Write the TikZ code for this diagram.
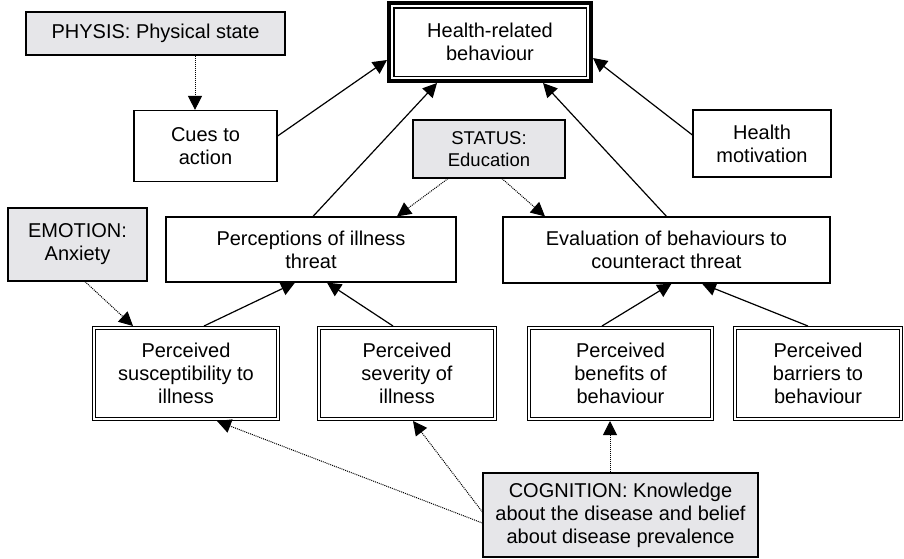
\documentclass[tikz,border=0pt]{standalone}
\usepackage{fontspec}
\setmainfont{Liberation Sans}
\usetikzlibrary{arrows.meta}
\definecolor{boxgray}{HTML}{E6E6E9}

\begin{document}
\begin{tikzpicture}[x=1pt,y=1pt,font=\fontsize{20}{23}\selectfont,
  box/.style={draw,line width=1.2pt,align=center,inner sep=0pt},
  gbox/.style={box,fill=boxgray},
  dbox/.style={box,double,double distance=1.6pt,outer sep=2pt,minimum height=91pt},
  cause/.style={-{Triangle[length=14pt,width=14pt]},line width=1.2pt},
  hint/.style={-{Triangle[length=14pt,width=14pt]},line width=1pt,dash pattern=on 1pt off 1pt}]
\useasboundingbox (0,0) rectangle (904,-558);
\node[gbox,minimum width=259pt,minimum height=43pt] (physis) at (155.5,-33.5) {PHYSIS: Physical state};
\node[box,line width=1.5pt,outer sep=6.75pt,minimum width=192.5pt,minimum height=68.5pt] (hrb) at (490,-42) {Health-related\\behaviour};
\draw[line width=4pt] ([shift={(2pt,2pt)}]hrb.south west) rectangle ([shift={(-2pt,-2pt)}]hrb.north east);
\node[box,minimum width=143pt,minimum height=71pt] (cues) at (205.5,-146) {Cues to\\action};
\node[gbox,minimum width=152pt,minimum height=58pt,font=\fontsize{18.5}{22}\selectfont] (status) at (489,-149) {STATUS:\\Education};
\node[box,minimum width=138pt,minimum height=67pt] (hm) at (762,-143.5) {Health\\motivation};
\node[gbox,minimum width=139pt,minimum height=73pt] (emotion) at (77.5,-244.5) {EMOTION:\\Anxiety};
\node[box,minimum width=290pt,minimum height=65pt] (perc) at (311,-249.5) {Perceptions of illness\\threat};
\node[box,minimum width=327pt,minimum height=66pt] (eval) at (666.5,-250) {Evaluation of behaviours to\\counteract threat};
\foreach \n/\x/\w/\t in {susc/186/184/{Perceived\\susceptibility to\\illness},
  sev/407/176/{Perceived\\severity of\\illness},
  ben/620.5/183/{Perceived\\benefits of\\behaviour},
  bar/818/166/{Perceived\\barriers to\\behaviour}}
  \node[dbox,minimum width=\w pt] (\n) at (\x,-373.5) {\t};
\node[gbox,minimum width=275pt,minimum height=84pt] (cog) at (620.5,-515) {COGNITION: Knowledge\\about the disease and belief\\about disease prevalence};
% links into behaviour
\draw[hint] ([xshift=39.5pt]physis.south) -- ([xshift=-10.5pt]cues.north);
\draw[cause] ([yshift=10pt]cues.east) -- ([yshift=-18pt]hrb.west);
\draw[cause] ([xshift=2pt]perc.north) -- ([xshift=-53pt]hrb.south);
\draw[cause] (eval.north) -- ([xshift=53pt]hrb.south);
\draw[cause] ([yshift=8.5pt]hm.west) -- ([yshift=-16pt]hrb.east);
\draw[hint] ([xshift=-41pt]status.south) -- ([xshift=86pt]perc.north);
\draw[hint] ([xshift=13pt]status.south) -- ([xshift=-121.5pt]eval.north);
% perceived factors
\draw[hint] ([xshift=7.5pt]emotion.south) -- ([xshift=-53pt]susc.north);
\draw[cause] ([xshift=18pt]susc.north) -- ([xshift=-16pt]perc.south);
\draw[cause] ([xshift=-14pt]sev.north) -- ([xshift=16pt]perc.south);
\draw[cause] ([xshift=-18.5pt]ben.north) -- ([xshift=5pt]eval.south);
\draw[cause] ([xshift=-10pt]bar.north) -- ([xshift=35.5pt]eval.south);
\draw[hint] ([yshift=-8pt]cog.west) -- ([xshift=31pt]susc.south);
\draw[hint] ([yshift=3pt]cog.west) -- ([xshift=6pt]sev.south);
\draw[hint] ([xshift=-10.5pt]cog.north) -- ([xshift=-10.5pt]ben.south);
\end{tikzpicture}
\end{document}
